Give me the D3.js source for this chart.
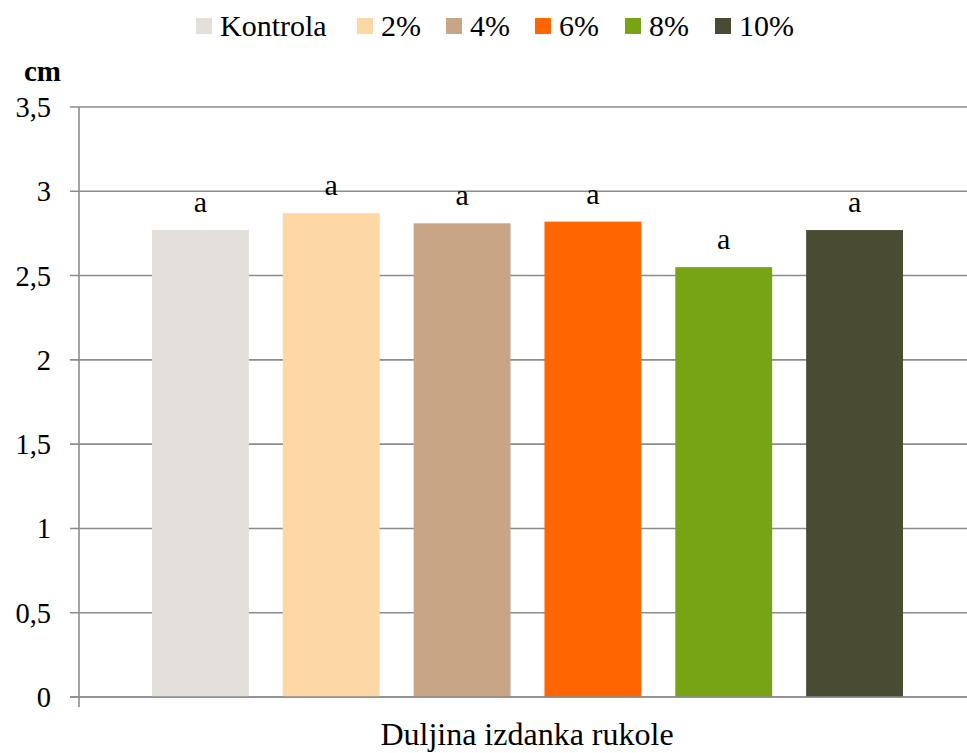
<!DOCTYPE html>
<html><head><meta charset="utf-8">
<script src="https://cdn.jsdelivr.net/npm/d3@7/dist/d3.min.js"></script>
<style>body{margin:0;background:#fff}svg{display:block}</style>
</head><body><svg id="c" width="967" height="753" font-family="Liberation Serif, DejaVu Serif, serif"></svg>
<script>
const category = "Duljina izdanka rukole";
const series = ["Kontrola","2%","4%","6%","8%","10%"];
const values = [2.77, 2.87, 2.81, 2.82, 2.55, 2.77];
const labels = ["a","a","a","a","a","a"];
const colors = ["#E3E0DB","#FDD8A5","#C8A585","#FF6600","#77A414","#4A4B33"];
const yTicks = [0,0.5,1,1.5,2,2.5,3,3.5];
const yTickLabels = ["0","0,5","1","1,5","2","2,5","3","3,5"];

const svg = d3.select("#c");
const L = 79, R = 976, T = 107, B = 697;
const y = d3.scaleLinear().domain([0,3.5]).range([B,T]);
const x0 = d3.scaleBand().domain([category]).range([L,R]).paddingInner(0).paddingOuter(0);
const x1 = d3.scaleBand().domain(series).range([x0(category)+73, x0(category)+x0.bandwidth()-73]).paddingInner(34/131).paddingOuter(0);

// gridlines
svg.append("g").selectAll("line").data(yTicks).join("line")
  .attr("x1", L-9).attr("x2", 967).attr("y1", d=>y(d)).attr("y2", d=>y(d))
  .attr("stroke", "#8c8c8c").attr("stroke-width", 1.6);

// y axis line
svg.append("line").attr("x1", L).attr("x2", L).attr("y1", T).attr("y2", B+10)
  .attr("stroke", "#8c8c8c").attr("stroke-width", 1.6);

// y tick labels
svg.append("g").selectAll("text").data(yTicks).join("text")
  .attr("x", 51).attr("y", d=>y(d)+10).attr("text-anchor","end")
  .attr("font-size", 28.5).attr("fill","#000").text((d,i)=>yTickLabels[i]);

// bars
svg.append("g").selectAll("rect").data(series).join("rect")
  .attr("x", s=>x1(s)).attr("width", x1.bandwidth())
  .attr("y", (s,i)=>y(values[i])).attr("height", (s,i)=>B - y(values[i]))
  .attr("fill", (s,i)=>colors[i]);

// bottom axis line on top
svg.append("line").attr("x1", L-9).attr("x2", 967).attr("y1", B).attr("y2", B)
  .attr("stroke", "#8c8c8c").attr("stroke-width", 1.6);

// data labels
svg.append("g").selectAll("text").data(series).join("text")
  .attr("x", s=>x1(s)+x1.bandwidth()/2).attr("y", (s,i)=>y(values[i])-18)
  .attr("text-anchor","middle").attr("font-size", 30).attr("fill","#000")
  .text((s,i)=>labels[i]);

// unit label
svg.append("text").attr("x", 24).attr("y", 81).attr("font-size", 29)
  .attr("font-weight","bold").text("cm");

// x category label
svg.append("text").attr("x", 527).attr("y", 745).attr("text-anchor","middle")
  .attr("font-size", 32).text(category);

// legend
const legX = [196, 357, 446, 535, 625, 715];
const leg = svg.append("g").selectAll("g").data(series).join("g")
  .attr("transform", (s,i)=>`translate(${legX[i]},0)`);
leg.append("rect").attr("x",0).attr("y",18).attr("width",16).attr("height",16)
  .attr("fill",(s,i)=>colors[i]);
leg.append("text").attr("x",24).attr("y",36).attr("font-size",30).text(s=>s);
</script></body></html>
